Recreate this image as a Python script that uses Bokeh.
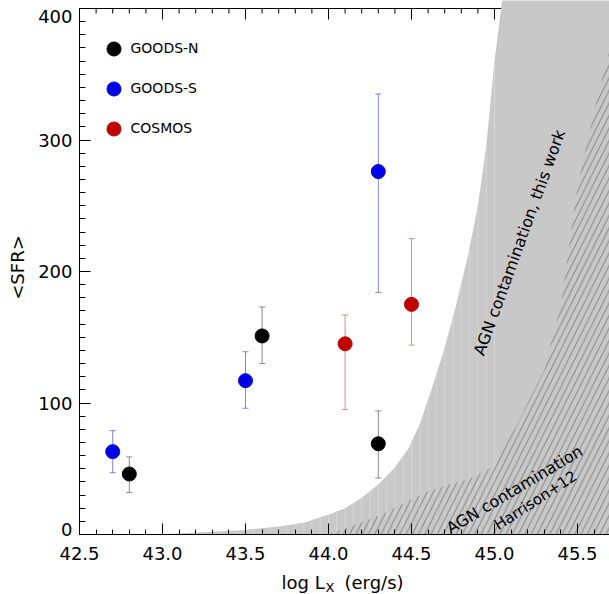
import numpy as np
from bokeh.plotting import figure
from bokeh.models import (ColumnDataSource, Whisker, TeeHead, Label, Legend, LegendItem,
                          Range1d, SingleIntervalTicker, PrintfTickFormatter, CustomJSTickFormatter)
from bokeh.core.properties import value
from bokeh.embed import file_html
from bokeh.resources import INLINE

# ---------------- data ----------------
goodsn_x = [42.8, 43.6, 44.3]
goodsn_sfr = [46, 151, 69]
goodsn_lo = [32, 130, 43]
goodsn_hi = [59, 173, 94]

goodss_x = [42.7, 43.5, 44.3]
goodss_sfr = [63, 117, 276]
goodss_lo = [47, 96, 184]
goodss_hi = [79, 139, 335]

cosmos_x = [44.1, 44.5]
cosmos_sfr = [145, 175]
cosmos_lo = [95, 144]
cosmos_hi = [167, 225]

# AGN contamination boundary, this work
agn_x = [42.95, 43.2, 43.5, 43.7, 43.85, 44.0, 44.1, 44.2, 44.3, 44.4, 44.48, 44.55, 44.62,
         44.7, 44.77, 44.84, 44.9, 44.95, 45.0, 45.04, 45.07]
agn_y = [0, 1.5, 3.5, 6, 9, 15, 20, 28, 38, 51, 65, 84, 110,
         142, 175, 212, 250, 295, 360, 400, 430]

# AGN contamination boundary, Harrison+12
harr_x = [44.0, 44.3, 44.6, 44.86, 44.98, 45.04, 45.14, 45.2, 45.3, 45.4, 45.5, 45.6, 45.7]
harr_y = [0, 14, 33, 43, 51, 64, 84, 100, 125, 175, 265, 322, 372]

y_ticks = [0, 100, 200, 300, 400]
y_tick_labels = ["0", "100", "200", "300", "400"]
legend_labels = ["GOODS-N", "GOODS-S", "COSMOS"]
x_label = ["log L", "X", "(erg/s)"]
y_label = "<SFR>"
region_labels = ["AGN contamination, this work", "AGN contamination", "Harrison+12"]

FONT = "DejaVu Sans"
X0, X1 = 42.5, 45.693          # plotted x extent (left axis at X0)
YTOP = 400
PXX = 166.0                    # pixels per dex
PXY = 526.0 / 400              # pixels per SFR unit
LEFT_PX, BOTTOM_PX = 79, 534   # canvas position of the axes crossing


def px2x(px):
    return X0 + (px - LEFT_PX) / PXX


def py2y(py):
    return (BOTTOM_PX - py) / PXY


p = figure(width=609, height=594,
           x_range=Range1d(px2x(0), px2x(609)), y_range=Range1d(py2y(594), py2y(0)),
           output_backend="svg", toolbar_location=None,
           min_border_left=0, min_border_right=0, min_border_top=0, min_border_bottom=0)
p.xgrid.visible = False
p.ygrid.visible = False
p.outline_line_color = None
p.background_fill_color = "white"
p.border_fill_color = "white"

# axes placed inside the frame
p.xaxis.fixed_location = 0
p.xaxis.bounds = (X0, X1 + 0.01)
p.xaxis.ticker = SingleIntervalTicker(interval=0.5, num_minor_ticks=5)
p.xaxis.formatter = PrintfTickFormatter(format="%.1f")
p.yaxis.fixed_location = X0
p.yaxis.bounds = (0, YTOP)
p.yaxis.ticker = SingleIntervalTicker(interval=100, num_minor_ticks=10)
p.yaxis.formatter = CustomJSTickFormatter(code="return ''")
for ax in (p.xaxis[0], p.yaxis[0]):
    ax.axis_line_color = "black"
    ax.axis_line_width = 1
    ax.major_tick_in = 11
    ax.major_tick_out = 0
    ax.minor_tick_in = 6
    ax.minor_tick_out = 0
    ax.major_tick_line_color = "black"
    ax.minor_tick_line_color = "black"
    ax.major_label_text_font = FONT
    ax.major_label_text_font_size = "18px"
    ax.major_label_text_color = "black"
p.xaxis.minor_tick_in = 5
p.xaxis.major_label_standoff = 12

# top frame line with inward ticks (drawn first, the shaded region covers it)
p.segment(x0=[X0], y0=[YTOP], x1=[X1], y1=[YTOP], line_color="black", line_width=1)
maj = np.arange(X0, X1, 0.5)
mnr = np.arange(X0, X1, 0.1)
p.segment(x0=maj, y0=YTOP, x1=maj, y1=YTOP - 11 / PXY, line_color="black", line_width=1)
p.segment(x0=mnr, y0=YTOP, x1=mnr, y1=YTOP - 5 / PXY, line_color="black", line_width=1)

# shaded AGN region (this work)
p.patch(x=agn_x + [X1 + 0.1, X1 + 0.1], y=agn_y + [agn_y[-1], 0],
        fill_color="#c8c8c8", line_color=None)
stripe_x = np.arange(43.05, 45.01, 0.05)
stripe_top = np.interp(stripe_x, agn_x, agn_y)
p.segment(x0=stripe_x, y0=0, x1=stripe_x, y1=stripe_top, line_color="#d6d6d6", line_width=1)

# hatched region (Harrison+12)
p.patch(x=harr_x + [X1 + 0.1, X1 + 0.1], y=harr_y + [harr_y[-1], 0],
        fill_alpha=0, line_color=None, hatch_pattern="/", hatch_color="#6a6a6a",
        hatch_scale=12.5, hatch_weight=0.8)

# region labels
p.add_layout(Label(x=px2x(519), y=py2y(242), text=region_labels[0], angle=70, angle_units="deg",
                   text_align="center", text_baseline="middle", text_font=FONT,
                   text_font_size="16px", text_color="black"))
p.add_layout(Label(x=px2x(514), y=py2y(489), text=region_labels[1], angle=31, angle_units="deg",
                   text_align="center", text_baseline="middle", text_font=FONT,
                   text_font_size="16px", text_color="black"))
p.add_layout(Label(x=px2x(535), y=py2y(500), text=region_labels[2], angle=33, angle_units="deg",
                   text_align="center", text_baseline="middle", text_font=FONT,
                   text_font_size="15px", text_color="black"))


# error bars
def add_err(xs, lo, hi, color):
    src = ColumnDataSource(dict(x=xs, lo=lo, hi=hi))
    p.add_layout(Whisker(source=src, base="x", lower="lo", upper="hi",
                         line_color=color, line_width=1,
                         upper_head=TeeHead(size=6, line_color=color, line_width=1),
                         lower_head=TeeHead(size=6, line_color=color, line_width=1)))


add_err(goodsn_x, goodsn_lo, goodsn_hi, "#8a8a8a")
add_err(goodss_x, goodss_lo, goodss_hi, "#8080ff")
add_err(cosmos_x, cosmos_lo, cosmos_hi, "#e08a8a")

rn = p.scatter(goodsn_x, goodsn_sfr, size=14, fill_color="black", line_color="black")
rs = p.scatter(goodss_x, goodss_sfr, size=14, fill_color="#0000e6", line_color="#0000e6")
rc = p.scatter(cosmos_x, cosmos_sfr, size=14, fill_color="#c00000", line_color="#c00000")

legend = Legend(items=[LegendItem(label=legend_labels[0], renderers=[rn]),
                       LegendItem(label=legend_labels[1], renderers=[rs]),
                       LegendItem(label=legend_labels[2], renderers=[rc])],
                location=(95.5, 594 - 145.5), glyph_width=35, glyph_height=35, spacing=5,
                padding=0, margin=0, label_standoff=0, border_line_color=None,
                background_fill_alpha=0, label_text_font=FONT, label_text_font_size="14px",
                label_text_color="black", label_height=35)
p.add_layout(legend)

# y tick labels (kept inside the canvas at the ends, as in the reference)
lab_y = np.clip(np.array(y_ticks, dtype=float), py2y(529), py2y(16))
p.text(x=X0, y=lab_y, text=y_tick_labels, x_offset=-7, text_align="right", text_baseline="middle",
       text_font=value(FONT), text_font_size="18px", text_color="black")

# axis titles
p.text(x=[px2x(17)], y=[py2y(267)], text=[y_label], angle=90, angle_units="deg",
       text_align="center", text_baseline="middle", text_font=value(FONT),
       text_font_size="18px", text_color="black")
p.text(x=[px2x(281)], y=[py2y(582)], text=[x_label[0]], text_align="left",
       text_baseline="alphabetic", text_font=value(FONT), text_font_size="18px", text_color="black")
p.text(x=[px2x(325)], y=[py2y(587)], text=[x_label[1]], text_align="left",
       text_baseline="alphabetic", text_font=value(FONT), text_font_size="13px", text_color="black")
p.text(x=[px2x(344)], y=[py2y(582)], text=[x_label[2]], text_align="left",
       text_baseline="alphabetic", text_font=value(FONT), text_font_size="18px", text_color="black")

open("out.html", "w").write(file_html(p, INLINE))
